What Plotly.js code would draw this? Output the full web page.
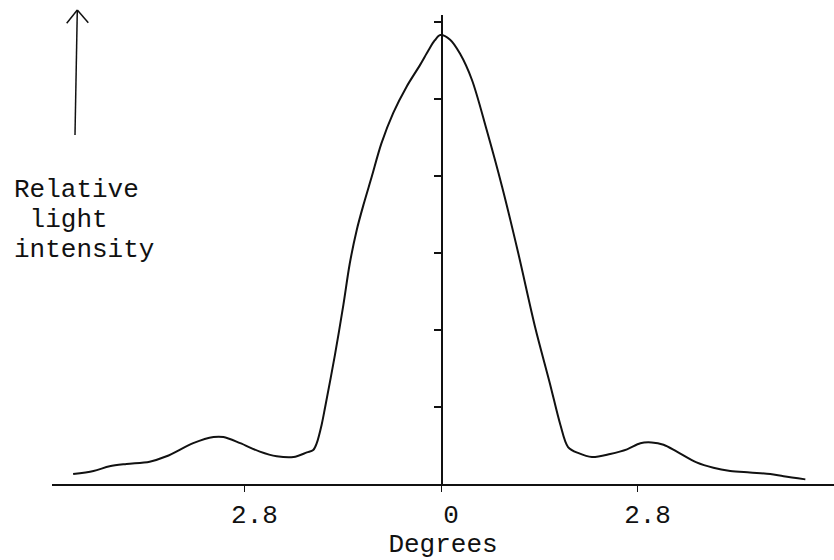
<!DOCTYPE html>
<html>
<head>
<meta charset="utf-8">
<script src="https://cdn.plot.ly/plotly-3.0.1.min.js"></script>
<style>html,body{margin:0;padding:0;background:#fff;}#chart{width:834px;height:560px;}</style>
</head>
<body>
<div id="chart"></div>
<script>
// Angle in degrees (left side negative) and relative light intensity
const degrees = [-5.24,-4.95,-4.72,-4.48,-4.15,-3.91,-3.53,-3.24,-3.10,-2.86,-2.58,-2.34,-2.10,-1.91,-1.82,-1.77,-1.70,-1.65,-1.51,-1.39,-1.30,-1.20,-1.10,-0.99,-0.85,-0.68,-0.49,-0.30,-0.18,-0.09,-0.01,0.13,0.27,0.44,0.65,0.87,1.10,1.34,1.55,1.70,1.81,1.96,2.15,2.41,2.65,2.84,3.00,3.17,3.36,3.64,3.88,4.12,4.40,4.69,4.88,5.19];
const intensity = [0.13,0.17,0.23,0.26,0.29,0.36,0.53,0.61,0.61,0.53,0.42,0.36,0.35,0.41,0.44,0.53,0.77,1.00,1.68,2.33,2.86,3.30,3.64,3.98,4.42,4.82,5.16,5.44,5.63,5.76,5.83,5.77,5.59,5.25,4.60,3.86,3.00,2.04,1.31,0.77,0.48,0.40,0.35,0.39,0.45,0.53,0.54,0.51,0.42,0.28,0.21,0.17,0.15,0.13,0.10,0.06];
const tickVals = [-2.8, 0, 2.8];
const tickText = ["2.8", "0", "2.8"];
const yTickVals = [1, 2, 3, 4, 5, 6];

const mono = "'Liberation Mono', 'Courier New', 'DejaVu Sans Mono', monospace";

const trace = {
  x: degrees, y: intensity, type: 'scatter', mode: 'lines',
  line: {color: '#111', width: 2, shape: 'spline', smoothing: 0.9},
  hoverinfo: 'skip', showlegend: false
};

// paper coords helpers (plot area: x 52..834, y 15..484 px)
const px = v => (v - 52) / 782;
const py = v => (484 - v) / 469;

const layout = {
  width: 834, height: 560,
  margin: {l: 52, r: 0, t: 15, b: 76},
  paper_bgcolor: '#fff', plot_bgcolor: '#fff',
  showlegend: false,
  xaxis: {
    range: [-5.541, 5.598], showgrid: false, zeroline: false,
    showline: true, linecolor: '#111', linewidth: 2,
    ticks: 'outside', ticklen: 6, tickwidth: 1, tickcolor: '#111',
    tickvals: tickVals, ticktext: tickText,
    ticklabelshift: 10,
    tickfont: {family: mono, size: 26, color: '#111'},
    title: {text: 'Degrees', font: {family: mono, size: 26, color: '#111'}, standoff: 8}
  },
  yaxis: {
    range: [0, 6.091], showgrid: false, zeroline: false,
    anchor: 'free', position: (441 - 52) / 782,
    showline: true, linecolor: '#111', linewidth: 1.5,
    ticks: 'outside', ticklen: 7, tickwidth: 1.5, tickcolor: '#111',
    tickvals: yTickVals, showticklabels: false
  },
  shapes: [
    {type: 'line', xref: 'paper', yref: 'paper', x0: px(75), y0: py(135), x1: px(77.3), y1: py(10), line: {color: '#111', width: 1.5}},
    {type: 'line', xref: 'paper', yref: 'paper', x0: px(66.7), y0: py(23.3), x1: px(77.3), y1: py(10), line: {color: '#111', width: 1.5}},
    {type: 'line', xref: 'paper', yref: 'paper', x0: px(88.3), y0: py(22.7), x1: px(77.3), y1: py(10), line: {color: '#111', width: 1.5}}
  ],
  annotations: [
    {text: 'Relative', xref: 'paper', yref: 'paper', x: px(12), y: py(190), xanchor: 'left', yanchor: 'middle', showarrow: false, font: {family: mono, size: 26, color: '#111'}},
    {text: '\u00A0light', xref: 'paper', yref: 'paper', x: px(12), y: py(220), xanchor: 'left', yanchor: 'middle', showarrow: false, font: {family: mono, size: 26, color: '#111'}},
    {text: 'intensity', xref: 'paper', yref: 'paper', x: px(12), y: py(250), xanchor: 'left', yanchor: 'middle', showarrow: false, font: {family: mono, size: 26, color: '#111'}}
  ]
};

Plotly.newPlot('chart', [trace], layout, {displayModeBar: false, staticPlot: true});
</script>
</body>
</html>
